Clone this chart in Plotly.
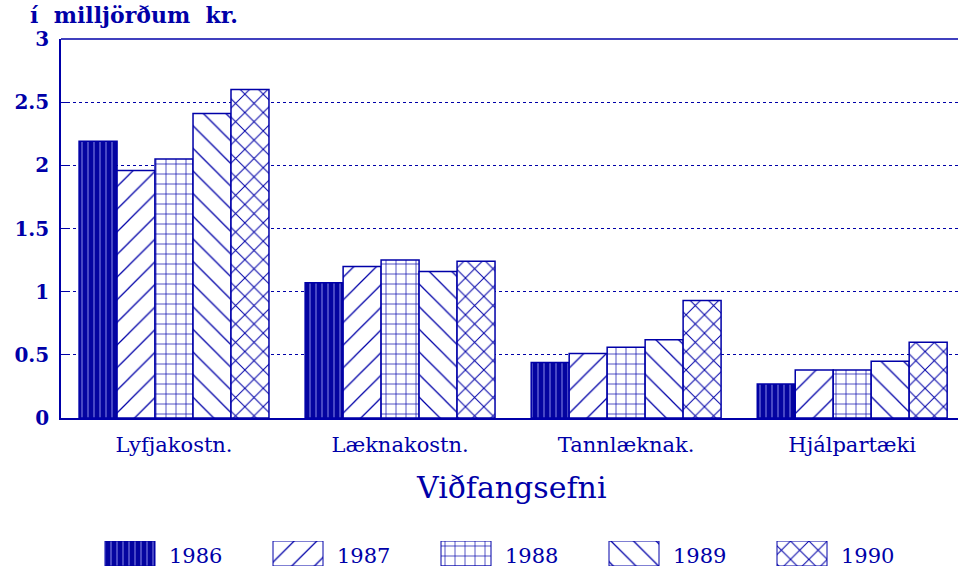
import plotly.graph_objects as go

categories = ["Lyfjakostn.", "Læknakostn.", "Tannlæknak.", "Hjálpartæki"]
years = ["1986", "1987", "1988", "1989", "1990"]
values = {
    "1986": [2.19, 1.07, 0.44, 0.27],
    "1987": [1.96, 1.20, 0.51, 0.38],
    "1988": [2.05, 1.25, 0.56, 0.38],
    "1989": [2.41, 1.16, 0.62, 0.45],
    "1990": [2.60, 1.24, 0.93, 0.60],
}
y_ticks = [0, 0.5, 1, 1.5, 2, 2.5, 3]
y_ticktext = ["0", "0.5", "1", "1.5", "2", "2.5", "3"]

BLUE = "#0000a8"
FONT = "DejaVu Serif"
W, H = 959, 571

patterns = {
    "1986": dict(shape="|", bgcolor="#0404a0", fgcolor="#6a6ad8", size=6, solidity=0.22, fillmode="replace"),
    "1987": dict(shape="/", bgcolor="white", fgcolor=BLUE, size=16, solidity=0.08, fillmode="replace"),
    "1988": dict(shape="+", bgcolor="white", fgcolor=BLUE, size=10, solidity=0.13, fillmode="replace"),
    "1989": dict(shape="\\", bgcolor="white", fgcolor=BLUE, size=16, solidity=0.08, fillmode="replace"),
    "1990": dict(shape="x", bgcolor="white", fgcolor=BLUE, size=13, solidity=0.15, fillmode="replace"),
}

fig = go.Figure()
for yr in years:
    fig.add_trace(go.Bar(
        x=categories, y=values[yr], name=yr,
        marker=dict(color="white", line=dict(color=BLUE, width=1.5), pattern=patterns[yr]),
        xaxis="x", yaxis="y", showlegend=False,
    ))

# custom legend swatches on a pixel-scaled helper axis
leg_x0, leg_step, leg_w = 130, 168, 50
for i, yr in enumerate(years):
    cx = leg_x0 + i * leg_step
    fig.add_trace(go.Bar(
        x=[cx], y=[1], width=[leg_w],
        marker=dict(color="white", line=dict(color=BLUE, width=1), pattern=patterns[yr]),
        xaxis="x2", yaxis="y2", showlegend=False, hoverinfo="skip",
    ))
    fig.add_annotation(x=cx + leg_w / 2 + 12, y=0.4, xref="x2", yref="y2", text=yr,
                       showarrow=False, xanchor="left", yanchor="middle",
                       font=dict(family=FONT, size=21, color=BLUE))

x_dom = [61 / W, 958 / W]
y_dom = [1 - 418 / H, 1 - 39 / H]

fig.update_layout(
    width=W, height=H,
    margin=dict(l=0, r=0, t=0, b=0),
    paper_bgcolor="white", plot_bgcolor="white",
    barmode="group", bargap=0.16, bargroupgap=0,
    font=dict(family=FONT, color=BLUE),
    xaxis=dict(domain=x_dom, range=[-0.5, 3.468], showline=True, linecolor=BLUE, linewidth=2,
               ticks="", showgrid=False, tickfont=dict(family=FONT, size=21, color=BLUE),
               ticklabelstandoff=7, automargin=False, anchor="y", fixedrange=True),
    yaxis=dict(domain=y_dom, range=[0, 3], tickvals=y_ticks, ticktext=y_ticktext,
               showline=True, linecolor=BLUE, linewidth=1.5, ticks="inside", ticklen=9,
               tickcolor=BLUE, showgrid=True, gridcolor=BLUE, griddash="dot", gridwidth=1,
               tickfont=dict(family=FONT, size=20, color=BLUE, weight="bold"), zeroline=False,
               ticklabelstandoff=6, automargin=False, anchor="x", fixedrange=True),
    xaxis2=dict(domain=[0, 1], range=[0, W], visible=False, anchor="y2", fixedrange=True),
    yaxis2=dict(domain=[1 - 566 / H, 1 - 541 / H], range=[0, 1], visible=False, anchor="x2",
                fixedrange=True),
    showlegend=False,
)

fig.add_shape(type="line", xref="x domain", yref="y domain", x0=0, x1=1, y0=1, y1=1,
              line=dict(color=BLUE, width=1.5))

fig.add_annotation(x=28 / W, y=1 - 15 / H, xref="paper", yref="paper",
                   text="<b>í&nbsp;&nbsp;milljörðum&nbsp;&nbsp;kr.</b>",
                   showarrow=False, xanchor="left", yanchor="middle",
                   font=dict(family=FONT, size=22, color=BLUE))
fig.add_annotation(x=(61 + 958) / 2 / W + 0.002, y=1 - 487 / H, xref="paper", yref="paper",
                   text="Viðfangsefni", showarrow=False, xanchor="center", yanchor="middle",
                   font=dict(family=FONT, size=30, color=BLUE))

fig.write_html("out.html", config={"displayModeBar": False},
               post_script="document.body.style.margin='0';")
